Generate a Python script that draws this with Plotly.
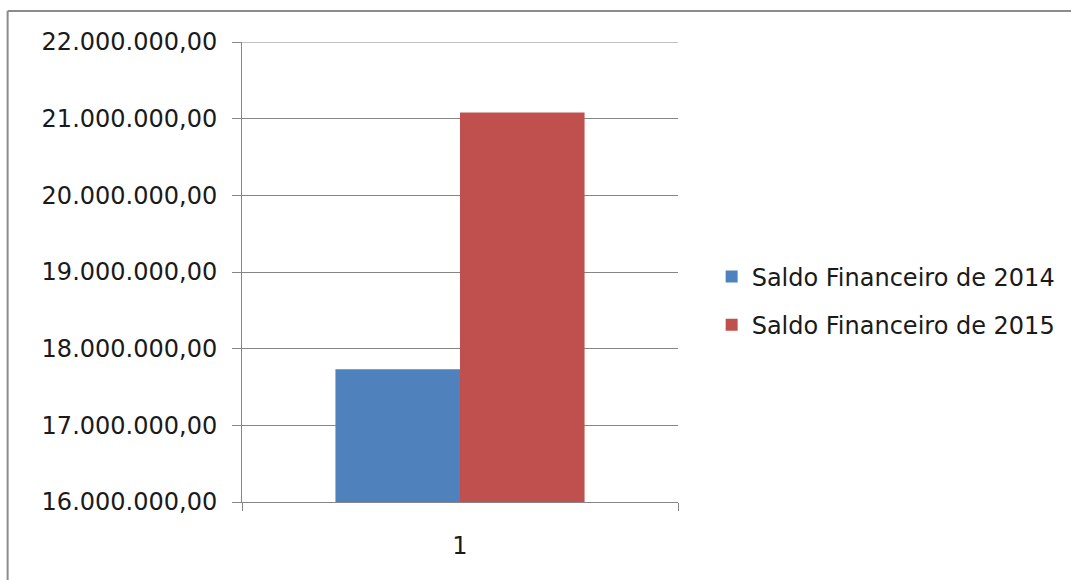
import plotly.graph_objects as go

categories = ["1"]
series_names = ["Saldo Financeiro de 2014", "Saldo Financeiro de 2015"]
values_2014 = [17730000]
values_2015 = [21080000]
colors = ["#4F81BD", "#C0504D"]
y_ticks = [16000000, 17000000, 18000000, 19000000, 20000000, 21000000, 22000000]
y_tick_labels = ["16.000.000,00", "17.000.000,00", "18.000.000,00", "19.000.000,00",
                 "20.000.000,00", "21.000.000,00", "22.000.000,00"]

fig = go.Figure()
for i, (name, vals) in enumerate(zip(series_names, [values_2014, values_2015])):
    fig.add_trace(go.Bar(x=categories, y=vals, name=name, marker_color=colors[i],
                         marker_line_width=0, legendgroup=str(i)))

font = dict(family="DejaVu Sans", size=24, color="#1a1a1a")
grid = "#868686"

L, R, T, B = 241.7, 678.3, 42, 502
W, H = 1071, 580
pw, ph = R - L, B - T

fig.update_layout(
    width=W, height=H,
    margin=dict(l=L, r=W - R, t=T, b=H - B, autoexpand=False),
    paper_bgcolor="white", plot_bgcolor="white",
    barmode="group", bargap=1.5 / 3.5, bargroupgap=0,
    font=font,
    showlegend=True,
    legend=dict(x=(712 - L) / pw, y=0.5 - 29 / ph, xanchor="left", yanchor="middle",
                font=dict(family="DejaVu Sans", size=24, color="#1a1a1a"),
                tracegroupgap=14, bgcolor="rgba(0,0,0,0)"),
    xaxis=dict(type="category", range=[-0.5, 0.5], showgrid=False,
               showline=True, linecolor=grid, linewidth=1,
               ticks="outside", tickson="boundaries", ticklen=8, tickcolor=grid,
               ticklabelstandoff=22, zeroline=False),
    yaxis=dict(range=[16000000, 22000000], tickvals=y_ticks, ticktext=y_tick_labels,
               showgrid=True, gridcolor=grid, gridwidth=1,
               showline=True, linecolor=grid, linewidth=1,
               ticks="outside", ticklen=9, tickcolor=grid,
               ticklabelstandoff=10, zeroline=False),
    shapes=[
        dict(type="line", xref="paper", yref="y", x0=0, x1=1,
             y0=y_ticks[-1], y1=y_ticks[-1], line=dict(color=grid, width=1)),
        dict(type="line", xref="paper", yref="paper",
             x0=(7 - L) / pw, x1=(W + 20 - L) / pw,
             y0=1 + (T - 11) / ph, y1=1 + (T - 11) / ph,
             line=dict(color="#8c8c8c", width=2)),
        dict(type="line", xref="paper", yref="paper",
             x0=(7 - L) / pw, x1=(7 - L) / pw,
             y0=1 + (T - 11) / ph, y1=-(H + 20 - B) / ph,
             line=dict(color="#8c8c8c", width=2)),
    ],
)

fig.write_html("out.html")
